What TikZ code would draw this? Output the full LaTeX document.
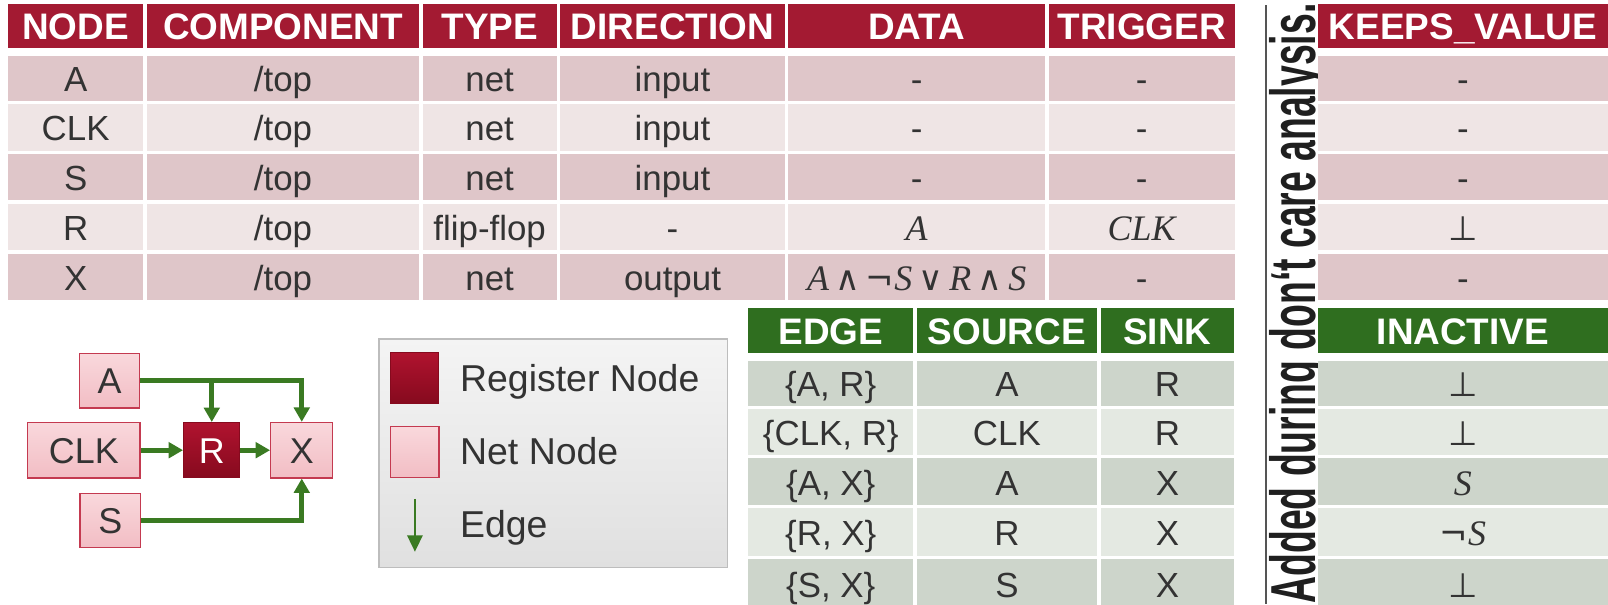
\documentclass[tikz,border=0pt]{standalone}
\usepackage{fontspec}
\usepackage{graphicx}
\setmainfont{Liberation Sans}
\newfontfamily\varfont{Liberation Serif}
\newfontfamily\opfont{DejaVu Sans}
\usetikzlibrary{arrows.meta}

% palette
\definecolor{hdrred}{HTML}{A31A32}
\definecolor{rowdark}{HTML}{DFC6C9}
\definecolor{rowlight}{HTML}{EFE5E5}
\definecolor{hdrgreen}{HTML}{2F6E1F}
\definecolor{gdark}{HTML}{CDD5CB}
\definecolor{glight}{HTML}{E4E9E2}
\definecolor{txt}{HTML}{333333}
\definecolor{edgegreen}{HTML}{3A7A22}
\definecolor{netborder}{HTML}{C43A50}
\definecolor{nettop}{HTML}{F9D8DC}
\definecolor{netbot}{HTML}{F2BDC4}
\definecolor{regtop}{HTML}{B0132F}
\definecolor{regbot}{HTML}{860A1E}
\definecolor{legborder}{HTML}{BDBDBD}
\definecolor{legtop}{HTML}{F4F4F4}
\definecolor{legbot}{HTML}{E0E0E0}
\definecolor{sepgray}{HTML}{555555}

% type sizes
\newcommand{\bodysize}{\fontsize{34}{40}\selectfont}
\newcommand{\headsize}{\fontsize{36}{42}\selectfont\bfseries}
\newcommand{\graphsize}{\fontsize{35}{40}\selectfont}

% logic formulas: italic serif variables, sans operators
\newcommand{\lv}[1]{{\fontsize{35}{40}\selectfont\varfont\itshape #1}}
\newcommand{\lop}[1]{{\fontsize{33}{38}\selectfont\opfont #1}}
\newcommand{\lbot}{{\fontsize{33}{38}\selectfont\opfont ⊥}}
\newcommand{\lsp}{\hspace{6pt}}

% one table cell: name, x-left, x-right, y-top, y-bottom, style, content
\newcommand{\tcell}[7]{%
  \node[#6, minimum width={(#3-#2)*1pt}, minimum height={(#5-#4)*1pt}]
    (#1) at ({(#2+#3)/2},{(#4+#5)/2}) {#7};}

\tikzset{
  cellbox/.style={inner sep=0pt, outer sep=0pt, text=txt, font=\bodysize,
    text height=26pt, text depth=0pt},
  redhead/.style={cellbox, fill=hdrred, text=white, font=\headsize},
  greenhead/.style={cellbox, fill=hdrgreen, text=white, font=\headsize},
  pinkdark/.style={cellbox, fill=rowdark},
  pinklight/.style={cellbox, fill=rowlight},
  greendark/.style={cellbox, fill=gdark},
  greenlight/.style={cellbox, fill=glight},
  netnode/.style={draw=netborder, line width=1.3pt, top color=nettop,
    bottom color=netbot, text=txt, font=\graphsize, inner sep=0pt,
    text height=25pt, text depth=0pt},
  regnode/.style={draw=regbot, line width=1pt, top color=regtop,
    bottom color=regbot, text=white, font=\graphsize, inner sep=0pt,
    text height=25pt, text depth=0pt},
  edge/.style={draw=edgegreen, line width=4.5pt,
    -{Triangle[length=14pt, width=15pt]}},
  keyedge/.style={draw=edgegreen, line width=1.8pt,
    -{Triangle[length=16pt, width=15pt]}},
  legtext/.style={text=txt, font=\fontsize{36.5}{42}\selectfont, inner sep=0pt},
  sepline/.style={draw=sepgray, line width=1.5pt},
}

\begin{document}
\begin{tikzpicture}[x=1pt, y=-1pt]
  \useasboundingbox (0,0) rectangle (1568,589);
  \fill[white] (0,0) rectangle (1568,589);

  % rotated note beside the separator
  \node[rotate=90, anchor=base west, inner sep=0pt, outer sep=0pt,
        text=black!88] (note) at (1282.3,588.5)
    {\resizebox{585pt}{\height}{\fontsize{62}{62}\selectfont\bfseries Added during don‘t care analysis.}};

  % node table: header
  \tcell{hNode}{8}{139.5}{3.9}{47.1}{redhead}{NODE}
  \tcell{hComp}{143}{409}{3.9}{47.1}{redhead}{COMPONENT}
  \tcell{hType}{412}{543}{3.9}{47.1}{redhead}{TYPE}
  \tcell{hDir}{546}{765.5}{3.9}{47.1}{redhead}{DIRECTION}
  \tcell{hData}{768.7}{1019}{3.9}{47.1}{redhead}{DATA}
  \tcell{hTrig}{1022.5}{1204}{3.9}{47.1}{redhead}{TRIGGER}
  \tcell{hKeep}{1285}{1568}{3.9}{47.1}{redhead}{KEEPS\_VALUE}

  % node table: row A
  \tcell{aNode}{8}{139.5}{55}{98}{pinkdark}{A}
  \tcell{aComp}{143}{409}{55}{98}{pinkdark}{/top}
  \tcell{aType}{412}{543}{55}{98}{pinkdark}{net}
  \tcell{aDir}{546}{765.5}{55}{98}{pinkdark}{input}
  \tcell{aData}{768.7}{1019}{55}{98}{pinkdark}{-}
  \tcell{aTrig}{1022.5}{1204}{55}{98}{pinkdark}{-}
  \tcell{aKeep}{1285}{1568}{55}{98}{pinkdark}{-}

  % node table: row CLK
  \tcell{cNode}{8}{139.5}{101}{147.5}{pinklight}{CLK}
  \tcell{cComp}{143}{409}{101}{147.5}{pinklight}{/top}
  \tcell{cType}{412}{543}{101}{147.5}{pinklight}{net}
  \tcell{cDir}{546}{765.5}{101}{147.5}{pinklight}{input}
  \tcell{cData}{768.7}{1019}{101}{147.5}{pinklight}{-}
  \tcell{cTrig}{1022.5}{1204}{101}{147.5}{pinklight}{-}
  \tcell{cKeep}{1285}{1568}{101}{147.5}{pinklight}{-}

  % node table: row S
  \tcell{sNode}{8}{139.5}{150.5}{195.5}{pinkdark}{S}
  \tcell{sComp}{143}{409}{150.5}{195.5}{pinkdark}{/top}
  \tcell{sType}{412}{543}{150.5}{195.5}{pinkdark}{net}
  \tcell{sDir}{546}{765.5}{150.5}{195.5}{pinkdark}{input}
  \tcell{sData}{768.7}{1019}{150.5}{195.5}{pinkdark}{-}
  \tcell{sTrig}{1022.5}{1204}{150.5}{195.5}{pinkdark}{-}
  \tcell{sKeep}{1285}{1568}{150.5}{195.5}{pinkdark}{-}

  % node table: row R
  \tcell{rNode}{8}{139.5}{199}{244}{pinklight}{R}
  \tcell{rComp}{143}{409}{199}{244}{pinklight}{/top}
  \tcell{rType}{412}{543}{199}{244}{pinklight}{flip-flop}
  \tcell{rDir}{546}{765.5}{199}{244}{pinklight}{-}
  \tcell{rData}{768.7}{1019}{199}{244}{pinklight}{\lv{A}}
  \tcell{rTrig}{1022.5}{1204}{199}{244}{pinklight}{\lv{CLK}}
  \tcell{rKeep}{1285}{1568}{199}{244}{pinklight}{\lbot}

  % node table: row X
  \tcell{xNode}{8}{139.5}{247.5}{293}{pinkdark}{X}
  \tcell{xComp}{143}{409}{247.5}{293}{pinkdark}{/top}
  \tcell{xType}{412}{543}{247.5}{293}{pinkdark}{net}
  \tcell{xDir}{546}{765.5}{247.5}{293}{pinkdark}{output}
  \tcell{xData}{768.7}{1019}{247.5}{293}{pinkdark}{\lv{A}\lsp\lop{∧}\lsp\lop{¬}\lv{S}\lsp\lop{∨}\lsp\lv{R}\lsp\lop{∧}\lsp\lv{S}}
  \tcell{xTrig}{1022.5}{1204}{247.5}{293}{pinkdark}{-}
  \tcell{xKeep}{1285}{1568}{247.5}{293}{pinkdark}{-}

  % edge table: header
  \tcell{hEdge}{729.7}{890.5}{300.6}{344.5}{greenhead}{EDGE}
  \tcell{hSrc}{894.4}{1069.3}{300.6}{344.5}{greenhead}{SOURCE}
  \tcell{hSink}{1073.2}{1203.5}{300.6}{344.5}{greenhead}{SINK}
  \tcell{hInact}{1285}{1568}{300.6}{344.5}{greenhead}{INACTIVE}

  % edge table: rows
  \tcell{e1Edge}{729.7}{890.5}{352.5}{395.5}{greendark}{\{A, R\}}
  \tcell{e1Src}{894.4}{1069.3}{352.5}{395.5}{greendark}{A}
  \tcell{e1Sink}{1073.2}{1203.5}{352.5}{395.5}{greendark}{R}
  \tcell{e1Inact}{1285}{1568}{352.5}{395.5}{greendark}{\lbot}

  \tcell{e2Edge}{729.7}{890.5}{398.5}{444}{greenlight}{\{CLK, R\}}
  \tcell{e2Src}{894.4}{1069.3}{398.5}{444}{greenlight}{CLK}
  \tcell{e2Sink}{1073.2}{1203.5}{398.5}{444}{greenlight}{R}
  \tcell{e2Inact}{1285}{1568}{398.5}{444}{greenlight}{\lbot}

  \tcell{e3Edge}{729.7}{890.5}{447}{492.5}{greendark}{\{A, X\}}
  \tcell{e3Src}{894.4}{1069.3}{447}{492.5}{greendark}{A}
  \tcell{e3Sink}{1073.2}{1203.5}{447}{492.5}{greendark}{X}
  \tcell{e3Inact}{1285}{1568}{447}{492.5}{greendark}{\lv{S}}

  \tcell{e4Edge}{729.7}{890.5}{495.5}{542}{greenlight}{\{R, X\}}
  \tcell{e4Src}{894.4}{1069.3}{495.5}{542}{greenlight}{R}
  \tcell{e4Sink}{1073.2}{1203.5}{495.5}{542}{greenlight}{X}
  \tcell{e4Inact}{1285}{1568}{495.5}{542}{greenlight}{\lop{¬}\lv{S}}

  \tcell{e5Edge}{729.7}{890.5}{545}{595}{greendark}{\{S, X\}}
  \tcell{e5Src}{894.4}{1069.3}{545}{595}{greendark}{S}
  \tcell{e5Sink}{1073.2}{1203.5}{545}{595}{greendark}{X}
  \tcell{e5Inact}{1285}{1568}{545}{595}{greendark}{\lbot}

  % separator
  \coordinate (septop) at (1234.5,5);
  \coordinate (sepbot) at (1234.5,589);
  \draw[sepline] (septop) -- (sepbot);

  % example circuit graph
  \node[netnode, minimum width=58.5pt, minimum height=53.5pt] (A) at (106.75,371.25) {A};
  \node[netnode, minimum width=109.5pt, minimum height=54pt] (CLK) at (81.75,439) {CLK};
  \node[regnode, minimum width=55pt, minimum height=54pt] (R) at (206.5,439) {R};
  \node[netnode, minimum width=60.5pt, minimum height=54pt] (X) at (294.25,439) {X};
  \node[netnode, minimum width=59pt, minimum height=53pt] (S) at (107.5,507.5) {S};

  \draw[edge] (A.east) -- (A.east -| X.north) -- (X.north);
  \draw[edge] (A.east -| R.north) -- (R.north);
  \draw[edge] (CLK.east) -- (R.west);
  \draw[edge] (R.east) -- (X.west);
  \draw[edge] (S.east) -- (S.east -| X.south) -- (X.south);

  % legend
  \node[draw=legborder, line width=1.5pt, top color=legtop, bottom color=legbot,
        minimum width=339.4pt, minimum height=223pt, inner sep=0pt] (legend) at (539.5,442) {};
  \node[regnode, minimum width=47pt, minimum height=49.5pt] (regkey) at (404.5,368.25) {};
  \node[netnode, minimum width=47pt, minimum height=49.7pt] (netkey) at (404.5,440.85) {};
  \coordinate (edgekeytop) at (404.6,486.5);
  \coordinate (edgekeybot) at (404.6,538);
  \draw[keyedge] (edgekeytop) -- (edgekeybot);
  \node[legtext, anchor=base west] (reglabel) at (448.5,382) {Register Node};
  \node[legtext, anchor=base west] (netlabel) at (448.5,452.7) {Net Node};
  \node[legtext, anchor=base west] (edgelabel) at (448.5,524) {Edge};
\end{tikzpicture}
\end{document}
